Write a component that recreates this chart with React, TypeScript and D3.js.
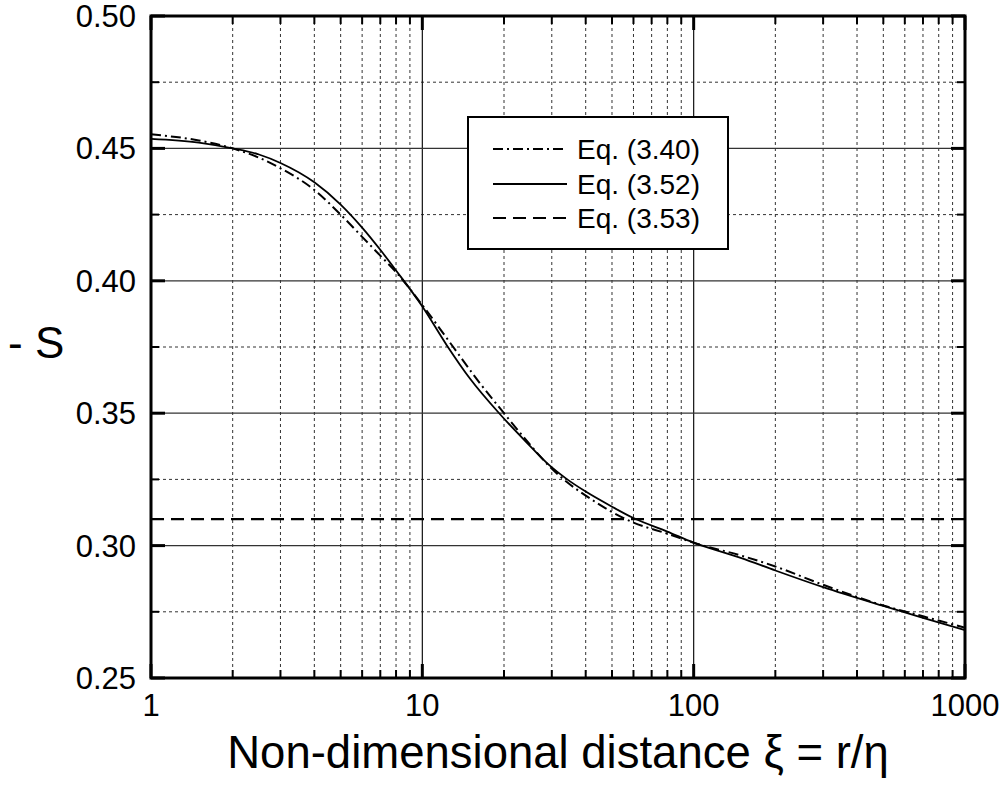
import React from "react";
import * as d3 from "d3";

const W = 1007;
const H = 787;
const margin = { left: 151, right: 965, top: 16, bottom: 678 };

const xTickLabels = ["1", "10", "100", "1000"];
const xMajor = [1, 10, 100, 1000];
const xMinor = [2, 3, 4, 5, 6, 7, 8, 9, 20, 30, 40, 50, 60, 70, 80, 90, 200, 300, 400, 500, 600, 700, 800, 900];
const yMajor = [0.25, 0.3, 0.35, 0.4, 0.45, 0.5];
const yTickLabels = ["0.25", "0.30", "0.35", "0.40", "0.45", "0.50"];
const yMinor = [0.275, 0.325, 0.375, 0.425, 0.475];

// Eq. (3.52) solid
const xs352 = [1, 1.5, 2, 2.5, 3, 4, 5, 6, 7, 8, 10, 12.3, 15, 19.3, 24, 29.5, 34.1, 40, 50, 60, 80, 100, 150, 200, 300, 500, 700, 1000];
const ys352 = [0.4536, 0.4522, 0.45, 0.4477, 0.4445, 0.4372, 0.4288, 0.4201, 0.4117, 0.4039, 0.3903, 0.3757, 0.363, 0.3497, 0.3394, 0.3302, 0.3251, 0.3204, 0.3147, 0.3104, 0.3053, 0.3011, 0.2953, 0.2906, 0.2843, 0.2772, 0.2727, 0.2681];

// Eq. (3.40) dash-dot
const xs340 = [1, 1.5, 2, 2.5, 3, 4, 5, 6, 7, 8, 10, 13, 16, 20, 25, 29.5, 34.1, 40.4, 50, 60, 80, 100, 150, 200, 300, 500, 700, 1000];
const ys340 = [0.4553, 0.453, 0.45, 0.4465, 0.4425, 0.4343, 0.425, 0.4166, 0.4095, 0.4033, 0.3908, 0.375, 0.3624, 0.35, 0.338, 0.3298, 0.324, 0.3186, 0.3127, 0.3087, 0.3045, 0.3011, 0.2962, 0.2921, 0.2852, 0.2774, 0.2733, 0.269];

// Eq. (3.53) dashed constant
const xs353 = [1, 1000];
const ys353 = [0.31, 0.31];

const legendLabels = ["Eq. (3.40)", "Eq. (3.52)", "Eq. (3.53)"];

export default function App() {
  const x = d3.scaleLog().domain([1, 1000]).range([margin.left, margin.right]);
  const y = d3.scaleLinear().domain([0.25, 0.5]).range([margin.bottom, margin.top]);
  const line = d3
    .line<[number, number]>()
    .x((d) => x(d[0]))
    .y((d) => y(d[1]))
    .curve(d3.curveMonotoneX);
  const zip = (a: number[], b: number[]) => a.map((v, i) => [v, b[i]] as [number, number]);

  const font = "'Liberation Sans', Arial, Helvetica, sans-serif";
  const dashDot = "10,4,2,4";
  const dashed = "13,7";

  const legendRowsY = [149, 184, 218];
  const legendStyles = [{ dash: dashDot }, { dash: undefined }, { dash: dashed }];

  return (
    <svg
      width={W}
      height={H}
      style={{ position: "absolute", left: 0, top: 0, background: "#fff" }}
      fontFamily={font}
    >
      <rect x={0} y={0} width={W} height={H} fill="#fff" />
      {/* minor grid */}
      {xMinor.map((v) => (
        <line key={"gx" + v} x1={x(v)} x2={x(v)} y1={margin.top} y2={margin.bottom} stroke="#333" strokeWidth={1} strokeDasharray="3,3" />
      ))}
      {yMinor.map((v) => (
        <line key={"gy" + v} x1={margin.left} x2={margin.right} y1={y(v)} y2={y(v)} stroke="#333" strokeWidth={1} strokeDasharray="3,3" />
      ))}
      {/* major grid */}
      {xMajor.slice(1, 3).map((v) => (
        <line key={"Gx" + v} x1={x(v)} x2={x(v)} y1={margin.top} y2={margin.bottom} stroke="#111" strokeWidth={1.2} />
      ))}
      {yMajor.slice(1, 5).map((v) => (
        <line key={"Gy" + v} x1={margin.left} x2={margin.right} y1={y(v)} y2={y(v)} stroke="#333" strokeWidth={1.2} />
      ))}

      {/* curves */}
      <path d={line(zip(xs353, ys353)) || ""} fill="none" stroke="#000" strokeWidth={2.2} strokeDasharray={dashed} />
      <path d={line(zip(xs340, ys340)) || ""} fill="none" stroke="#000" strokeWidth={2} strokeDasharray={dashDot} />
      <path d={line(zip(xs352, ys352)) || ""} fill="none" stroke="#000" strokeWidth={1.8} />

      {/* ticks */}
      {yMajor.map((v) => (
        <g key={"ty" + v}>
          <line x1={margin.left} x2={margin.left + 14} y1={y(v)} y2={y(v)} stroke="#000" strokeWidth={3} />
          <line x1={margin.right} x2={margin.right - 14} y1={y(v)} y2={y(v)} stroke="#000" strokeWidth={3} />
        </g>
      ))}
      {yMinor.map((v) => (
        <g key={"tym" + v}>
          <line x1={margin.left} x2={margin.left + 8} y1={y(v)} y2={y(v)} stroke="#000" strokeWidth={2} />
          <line x1={margin.right} x2={margin.right - 8} y1={y(v)} y2={y(v)} stroke="#000" strokeWidth={2} />
        </g>
      ))}
      {xMajor.map((v) => (
        <g key={"tx" + v}>
          <line x1={x(v)} x2={x(v)} y1={margin.bottom} y2={margin.bottom - 14} stroke="#000" strokeWidth={3} />
          <line x1={x(v)} x2={x(v)} y1={margin.top} y2={margin.top + 14} stroke="#000" strokeWidth={3} />
        </g>
      ))}
      {xMinor.map((v) => (
        <g key={"txm" + v}>
          <line x1={x(v)} x2={x(v)} y1={margin.bottom} y2={margin.bottom - 8} stroke="#000" strokeWidth={2} />
          <line x1={x(v)} x2={x(v)} y1={margin.top} y2={margin.top + 8} stroke="#000" strokeWidth={2} />
        </g>
      ))}

      {/* frame */}
      <rect
        x={margin.left}
        y={margin.top}
        width={margin.right - margin.left}
        height={margin.bottom - margin.top}
        fill="none"
        stroke="#000"
        strokeWidth={3}
      />

      {/* legend */}
      <rect x={468} y={117} width={260} height={132} fill="#fff" stroke="#000" strokeWidth={2} />
      {legendLabels.map((t, i) => (
        <g key={t}>
          <line
            x1={493}
            x2={567}
            y1={legendRowsY[i]}
            y2={legendRowsY[i]}
            stroke="#000"
            strokeWidth={2}
            strokeDasharray={legendStyles[i].dash}
          />
          <text x={577} y={legendRowsY[i] + 10} fontSize={28} fill="#000">
            {t}
          </text>
        </g>
      ))}

      {/* tick labels */}
      {yMajor.map((v, i) => (
        <text key={"ly" + v} x={136} y={y(v) + 11} fontSize={31} textAnchor="end" fill="#000">
          {yTickLabels[i]}
        </text>
      ))}
      {xMajor.map((v, i) => (
        <text key={"lx" + v} x={x(v)} y={716} fontSize={31} textAnchor="middle" fill="#000">
          {xTickLabels[i]}
        </text>
      ))}

      {/* axis titles */}
      <text x={558} y={768} fontSize={45.5} textAnchor="middle" fill="#000">
        Non-dimensional distance ξ = r/η
      </text>
      <text x={8} y={358} fontSize={44} fill="#000">
        - S
      </text>
    </svg>
  );
}
